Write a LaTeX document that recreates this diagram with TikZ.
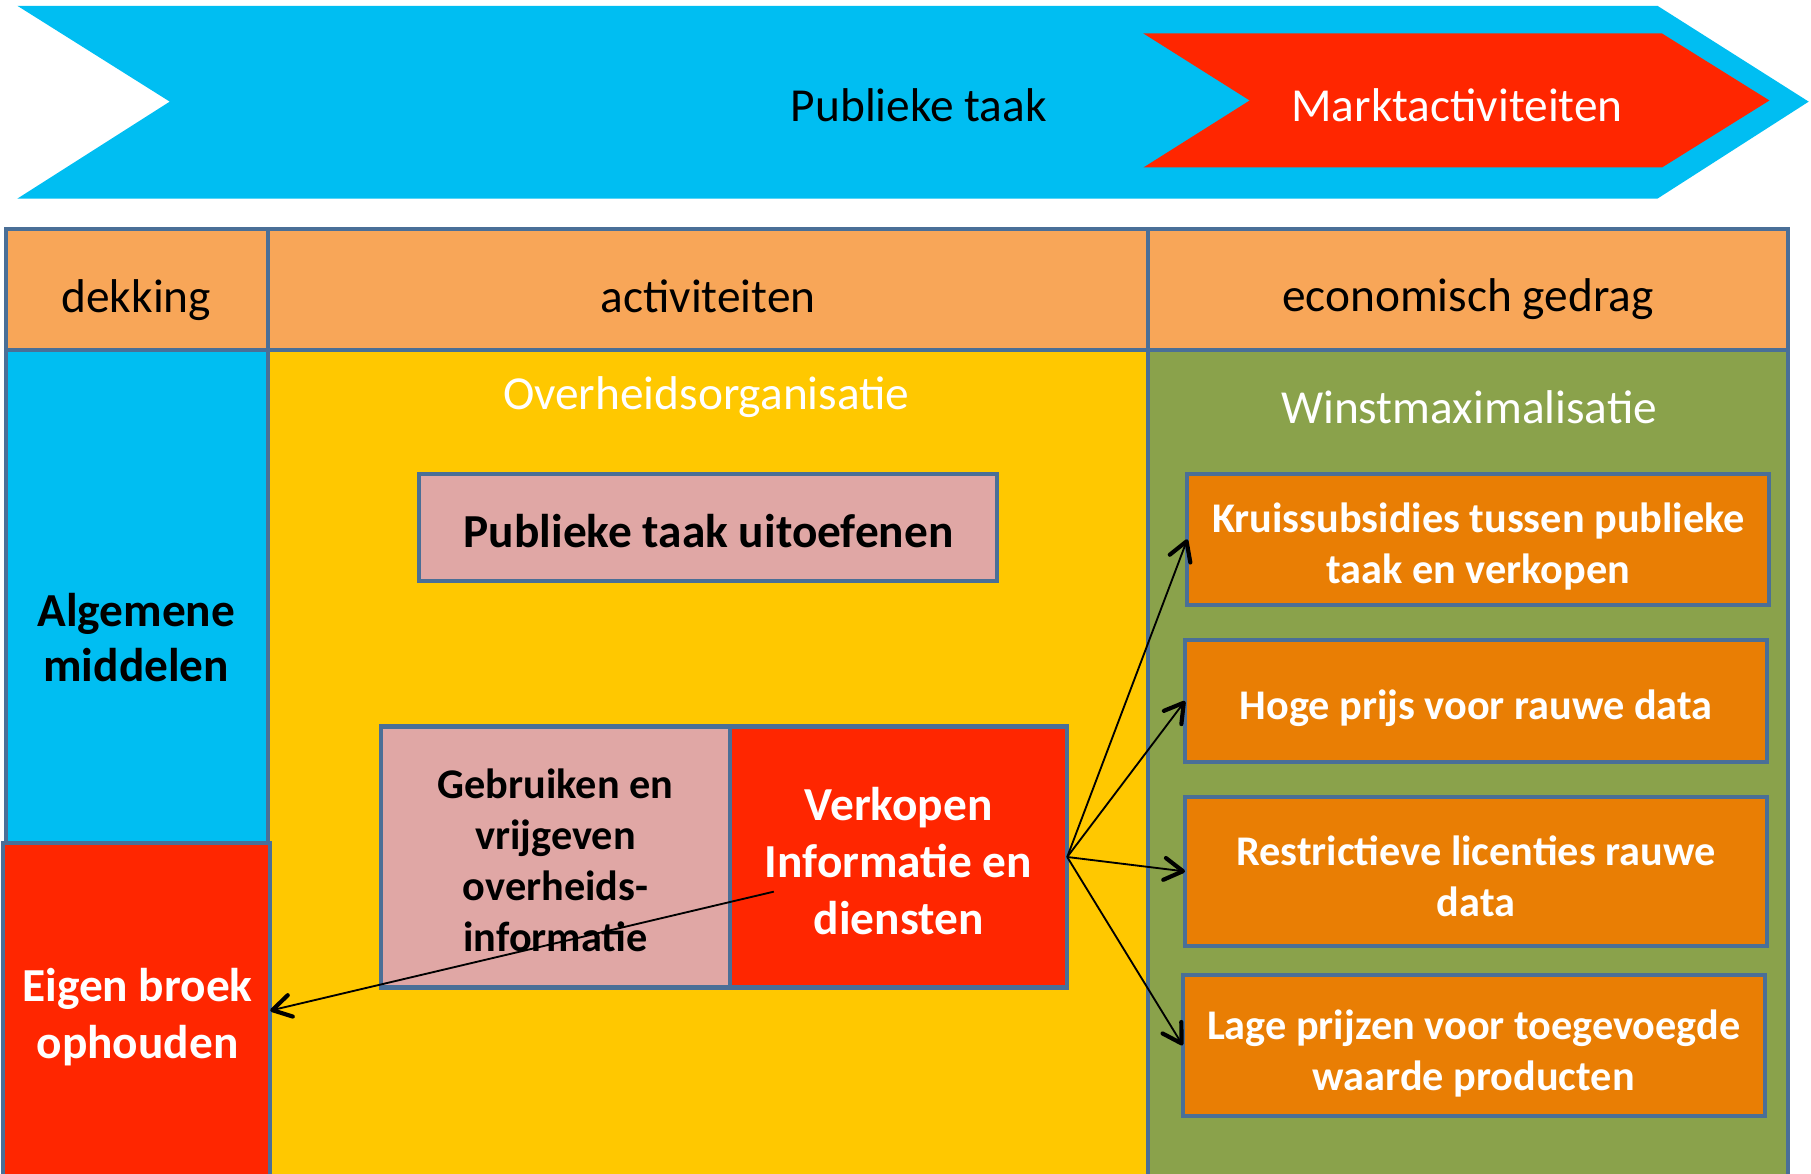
\documentclass[tikz,border=0pt]{standalone}
\usepackage{fontspec}
\setmainfont{Carlito}
\usetikzlibrary{arrows.meta}
\definecolor{cblue}{HTML}{00BEF2}
\definecolor{cred}{HTML}{FF2600}
\definecolor{chead}{HTML}{F8A658}
\definecolor{cyellow}{HTML}{FFC800}
\definecolor{cgreen}{HTML}{8AA24B}
\definecolor{cpink}{HTML}{E0A7A5}
\definecolor{corange}{HTML}{E97E04}
\definecolor{cborder}{HTML}{4A6F97}
\begin{document}
\begin{tikzpicture}[x=1pt,y=-1pt,
  cell/.style={draw=cborder, line width=3.5pt, line join=miter},
  boxn/.style={draw=cborder, line width=3.5pt, inner sep=0pt, outer sep=0pt, rectangle},
  big/.style={font=\fontsize{41}{49}\selectfont, align=center, inner sep=0pt},
  bigb/.style={font=\bfseries\fontsize{41}{49}\selectfont, align=center, inner sep=0pt},
  bigbt/.style={font=\bfseries\fontsize{41}{48}\selectfont, align=center, inner sep=0pt},
  smallb/.style={font=\bfseries\fontsize{36.6}{44}\selectfont, align=center, inner sep=0pt},
  conn/.style={line width=1.6pt, -{Straight Barb[length=16pt,width=19pt,line width=3.6pt,round]}},
]
\useasboundingbox (0,0) rectangle (1568,1016);
% top arrows
\fill[cblue] (15,5) -- (1435,5) -- (1566,88) -- (1435,172) -- (15,172) -- (147,88) -- cycle;
\fill[cred] (990,29) -- (1439,29) -- (1532,87) -- (1439,145) -- (990,145) -- (1082,87) -- cycle;
\node[big] (pt) at (795.5,95.5) {\strut Publieke taak};
\node[big, text=white] (ma) at (1261.5,95.5) {\strut Marktactiviteiten};
% table fills
\fill[chead] (5,198) rectangle (1548,303);
\fill[cblue] (5,303) rectangle (232,730);
\fill[cyellow] (232,303) rectangle (994,1020);
\fill[cgreen] (994,303) rectangle (1548,1020);
% table borders
\draw[cell] (5,198) rectangle (232,303);
\draw[cell] (232,198) rectangle (994,303);
\draw[cell] (994,198) rectangle (1548,303);
\draw[cell] (5,303) rectangle (232,730);
\draw[cell] (232,303) rectangle (994,1020);
\draw[cell] (994,303) rectangle (1548,1020);
% headers
\node[big] (h1) at (118,260.5) {\strut dekking};
\node[big] (h2) at (613,260.5) {\strut activiteiten};
\node[big] (h3) at (1271,259.5) {\strut economisch gedrag};
% column titles
\node[big, text=white] (ov) at (611.5,345) {\strut Overheidsorganisatie};
\node[big, text=white] (wm) at (1272,356.5) {\strut Winstmaximalisatie};
% left column
\node[bigbt] (am) at (118,556.4) {\strut Algemene\\\strut middelen};
\node[boxn, fill=cred, minimum width=231pt, minimum height=290pt] (eb) at (118.5,875) {};
\node[bigb, text=white] (ebt) at (119,882.2) {\strut Eigen broek\\\strut ophouden};
% middle column
\node[boxn, fill=cpink, minimum width=500pt, minimum height=93pt] (pu) at (613,456.5) {};
\node[bigb] (put) at (613.5,464.5) {\strut Publieke taak uitoefenen};
\node[boxn, fill=cpink, minimum width=302pt, minimum height=226pt] (gb) at (481,742) {};
\node[smallb] (gbt) at (481,748.7) {\strut Gebruiken en\\\strut vrijgeven\\\strut overheids-\\\strut informatie};
\node[boxn, fill=cred, minimum width=292pt, minimum height=226pt] (vk) at (778,742) {};
\node[bigb, text=white] (vkt) at (778,750) {\strut Verkopen\\\strut Informatie en\\\strut diensten};
% right column
\node[boxn, fill=corange, minimum width=504pt, minimum height=114pt] (k1) at (1280,467) {};
\node[smallb, text=white] (k1t) at (1280,474.6) {\strut Kruissubsidies tussen publieke\\\strut taak en verkopen};
\node[boxn, fill=corange, minimum width=504pt, minimum height=106pt] (k2) at (1278,607) {};
\node[smallb, text=white] (k2t) at (1278,614) {\strut Hoge prijs voor rauwe data};
\node[boxn, fill=corange, minimum width=504pt, minimum height=129pt] (k3) at (1278,754.5) {};
\node[smallb, text=white] (k3t) at (1278,762.7) {\strut Restrictieve licenties rauwe\\\strut data};
\node[boxn, fill=corange, minimum width=504pt, minimum height=122pt] (k4) at (1276,905) {};
\node[smallb, text=white] (k4t) at (1276,913) {\strut Lage prijzen voor toegevoegde\\\strut waarde producten};
% connectors
\draw[conn] (vk.east) -- (k1.west);
\draw[conn] (vk.east) -- (k2.west);
\draw[conn] (vk.east) -- (k3.west);
\draw[conn] (vk.east) -- (k4.west);
\coordinate (vs) at (670,772);
\draw[conn] (vs) -- (eb.east);
\end{tikzpicture}
\end{document}
